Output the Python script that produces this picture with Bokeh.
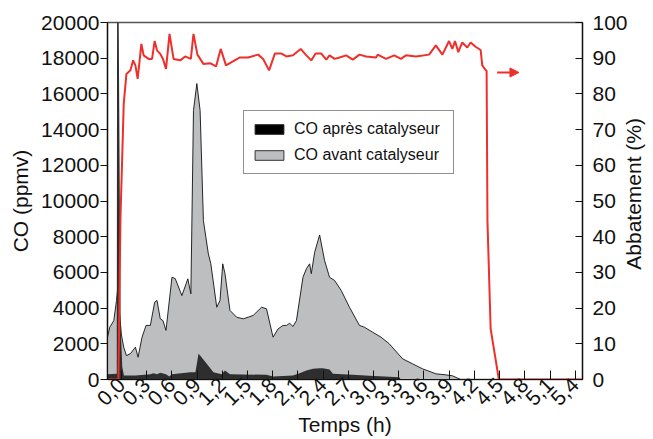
from bokeh.plotting import figure
from bokeh.models import (Range1d, LinearAxis, FixedTicker, Legend, LegendItem, Arrow, NormalHead,
                          ColumnDataSource, Label)
from bokeh.embed import file_html
from bokeh.resources import INLINE
import math

# ---- data ----
t_avant = [-0.166, -0.139, -0.091, -0.059, -0.047, 0.0, 0.027, 0.059, 0.107, 0.166, 0.198, 0.245, 0.293,
           0.344, 0.395, 0.423, 0.462, 0.494, 0.530, 0.601, 0.640, 0.719, 0.790, 0.826, 0.857, 0.897,
           0.936, 0.975, 1.034, 1.063, 1.134, 1.173, 1.205, 1.232, 1.291, 1.331, 1.371, 1.449, 1.508,
           1.568, 1.667, 1.726, 1.804, 1.864, 1.923, 1.963, 2.002, 2.041, 2.082, 2.160, 2.200, 2.239,
           2.259, 2.299, 2.358, 2.417, 2.476, 2.536, 2.615, 2.713, 2.832, 2.891, 2.989, 3.089, 3.187,
           3.345, 3.463, 3.582, 3.741, 3.859, 3.937, 4.037]
co_avant = [2370, 2930, 3300, 4430, 5000, 2500, 1810, 1340, 1450, 1810, 1250, 2370, 3030,
            3030, 4330, 4430, 3400, 3300, 2750, 5730, 5650, 4700, 5640, 4800, 15070, 16580,
            15070, 8900, 7040, 6500, 4050, 4430, 6480, 5930, 3870, 3680, 3490, 3400, 3490,
            3590, 4050, 3960, 2370, 2840, 3030, 3030, 3150, 2970, 3300, 5730, 6200, 6480,
            5930, 7130, 8100, 6670, 5730, 5550, 4990, 4050, 3030, 2930, 2650, 2370, 2000,
            1160, 880, 600, 320, 260, 210, 0]

t_apres = [-0.166, -0.056, -0.052, -0.034, -0.010, 0.010, 0.030, 0.166, 0.344, 0.380, 0.423, 0.462,
           0.530, 0.569, 0.601, 0.820, 0.880, 0.917, 0.936, 1.015, 1.094, 1.193, 1.232, 1.291, 1.726,
           1.804, 2.041, 2.120, 2.200, 2.279, 2.358, 2.397, 2.476, 2.516, 2.752, 2.950, 3.305, 3.325]
co_apres = [300, 320, 21000, 21000, 3000, 700, 220, 220, 290, 350, 300, 375,
            300, 170, 300, 410, 410, 1440, 1340, 880, 410, 300, 500, 300, 260,
            170, 220, 350, 500, 600, 630, 630, 560, 320, 260, 210, 130, 0]

t_abat = [-0.166, -0.036, -0.012, 0.027, 0.059, 0.107, 0.139, 0.166, 0.193, 0.237, 0.264, 0.323, 0.364,
          0.395, 0.423, 0.462, 0.494, 0.530, 0.572, 0.620, 0.699, 0.758, 0.826, 0.857, 0.904, 0.975,
          1.055, 1.126, 1.181, 1.244, 1.331, 1.410, 1.508, 1.627, 1.686, 1.757, 1.825, 1.904, 1.963,
          2.041, 2.133, 2.200, 2.259, 2.310, 2.378, 2.437, 2.476, 2.536, 2.595, 2.674, 2.752, 2.832,
          2.911, 3.030, 3.049, 3.148, 3.246, 3.326, 3.385, 3.504, 3.661, 3.741, 3.819, 3.898, 3.937,
          3.969, 4.008, 4.055, 4.115, 4.155, 4.214, 4.274, 4.293, 4.333, 4.345, 4.355, 4.393, 4.491, 5.486]
abat = [0, 0, 45, 77.2, 85.6, 86.6, 89.4, 88, 84.2, 94, 90.8, 89.8, 89.8,
        94.8, 92.2, 91.2, 89.8, 87, 96.8, 89.8, 89.4, 90.5, 89.8, 96.8, 91, 88.4,
        88.6, 87.7, 92.6, 88, 89.2, 90.2, 90.2, 91, 89.8, 86.6, 91.3, 91.3, 90.5,
        90.8, 92.6, 90.8, 89.4, 91.3, 91.3, 89.6, 90.8, 89.8, 90.2, 90.8, 89.6, 91,
        90.5, 90.2, 91, 89.8, 90.8, 89.8, 90.8, 90.5, 91, 93.6, 91, 94.8, 92.6,
        94.8, 91.7, 94.4, 93, 94.4, 93.2, 92.3, 88, 86.7, 86.5, 44.5, 14.2, 0, 0]

x_ticks = [0.0, 0.3, 0.6, 0.9, 1.2, 1.5, 1.8, 2.1, 2.4, 2.7, 3.0, 3.3, 3.6, 3.9, 4.2, 4.5, 4.8, 5.1, 5.4]
x_tick_labels = ["0,0", "0,3", "0,6", "0,9", "1,2", "1,5", "1,8", "2,1", "2,4", "2,7", "3,0", "3,3",
                 "3,6", "3,9", "4,2", "4,5", "4,8", "5,1", "5,4"]
y_ticks = [0, 2000, 4000, 6000, 8000, 10000, 12000, 14000, 16000, 18000, 20000]
y2_ticks = [0, 10, 20, 30, 40, 50, 60, 70, 80, 90, 100]

legend_labels = ["CO après catalyseur", "CO avant catalyseur"]
y2_title = "Abbatement (%)"
arrow_t = [4.47, 4.73]
arrow_pct = 86

FONT = "Liberation Sans"
FS = "21px"
RED = "#ee2f2a"
GRAY = "#bdbec0"
DARK = "#2e2e2e"

p = figure(width=653, height=439, output_backend="svg", toolbar_location=None,
           x_range=Range1d(-0.166, 5.486), y_range=Range1d(0, 20000),
           min_border_left=107, min_border_right=69, min_border_top=22, min_border_bottom=60)
p.background_fill_color = "white"
p.border_fill_color = "white"
p.grid.visible = False
p.outline_line_color = "#555555"
p.outline_line_width = 1.5

p.extra_y_ranges = {"pct": Range1d(0, 100)}

src_av = ColumnDataSource(dict(t=t_avant, y=co_avant))
src_ap = ColumnDataSource(dict(t=t_apres, y=co_apres))
src_ab = ColumnDataSource(dict(t=t_abat, y=abat))

p.varea(x="t", y1=0, y2="y", source=src_av, fill_color=GRAY)
p.line(x="t", y="y", source=src_av, line_color="#111111", line_width=0.9)
p.varea(x="t", y1=0, y2="y", source=src_ap, fill_color=DARK)
p.line(x="t", y="y", source=src_ab, y_range_name="pct", line_color=RED, line_width=2)

p.add_layout(Arrow(end=NormalHead(size=9, fill_color=RED, line_color=RED),
                   x_start=arrow_t[0], x_end=arrow_t[1], y_start=arrow_pct, y_end=arrow_pct,
                   y_range_name="pct", line_color=RED, line_width=2))

# legend
leg_ap = p.rect(x=[-10], y=[-10], width=1, height=1, fill_color="black", line_color="#222222")
leg_av = p.rect(x=[-10], y=[-10], width=1, height=1, fill_color=GRAY, line_color="#333333")
legend = Legend(items=[LegendItem(label=legend_labels[0], renderers=[leg_ap]),
                       LegendItem(label=legend_labels[1], renderers=[leg_av])],
                location=(136, 205), orientation="vertical",
                label_text_font=FONT, label_text_font_size="16px", label_text_color="#111111",
                glyph_width=36, glyph_height=12, label_height=22, label_width=152,
                label_standoff=7, padding=7, spacing=4, margin=0,
                border_line_color="#222222", border_line_width=1.5,
                background_fill_color="white", background_fill_alpha=1)
p.add_layout(legend, "center")


def style_axis(ax):
    ax.minor_tick_line_color = None
    ax.axis_line_color = "#111111"
    ax.axis_line_width = 1.2
    ax.major_tick_line_color = "#111111"
    ax.major_label_text_font = FONT
    ax.major_label_text_font_size = FS
    ax.major_label_text_color = "#111111"
    ax.axis_label_text_font = FONT
    ax.axis_label_text_font_size = FS
    ax.axis_label_text_font_style = "normal"
    ax.axis_label_text_color = "#111111"


xa = p.xaxis[0]
style_axis(xa)
xa.ticker = FixedTicker(ticks=x_ticks)
xa.major_label_overrides = {t: l for t, l in zip(x_ticks, x_tick_labels)}
xa.major_label_orientation = math.pi / 4
xa.major_tick_in = 9
xa.major_tick_out = 0
xa.major_label_standoff = 2
xa.axis_label = "Temps (h)"
xa.axis_label_standoff = -2

ya = p.yaxis[0]
style_axis(ya)
ya.ticker = FixedTicker(ticks=y_ticks)
ya.major_tick_in = 0
ya.major_tick_out = 7
ya.major_label_standoff = 1
ya.axis_label = "CO (ppmv)"
ya.axis_label_standoff = 6

y2 = LinearAxis(y_range_name="pct", ticker=FixedTicker(ticks=y2_ticks))
style_axis(y2)
y2.major_tick_in = 7
y2.major_tick_out = 0
y2.major_label_standoff = 10
p.add_layout(y2, "right")

# right-axis title, reading bottom-to-top, placed in the right side panel (not clipped)
p.add_layout(Label(x=6.09, y=52, y_range_name="pct", text=y2_title, angle=math.pi / 2,
                   text_align="center", text_baseline="middle",
                   text_font=FONT, text_font_size=FS, text_color="#111111"), "right")

open("out.html", "w").write(file_html(p, INLINE))
